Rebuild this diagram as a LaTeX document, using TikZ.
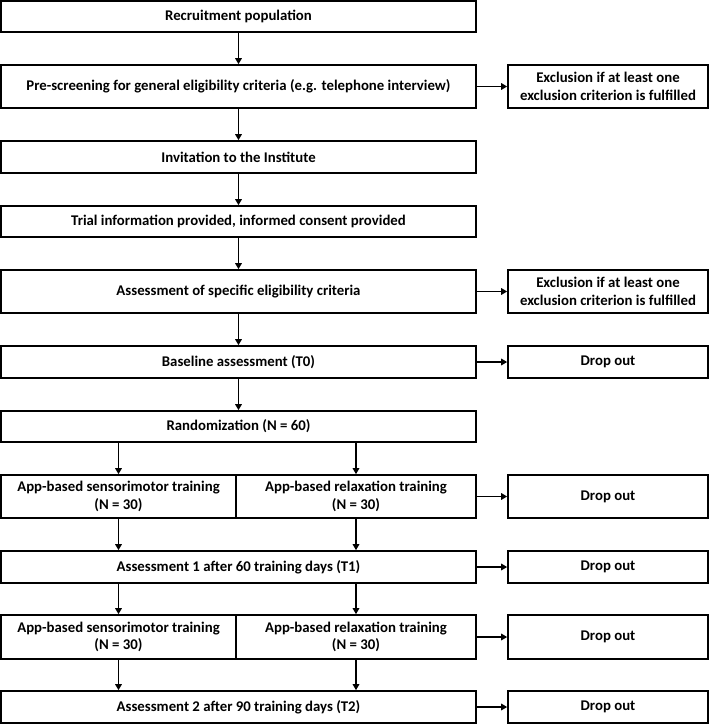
\documentclass[tikz,border=0pt]{standalone}
\usepackage{fontspec}
\setmainfont{Carlito}
\usetikzlibrary{arrows.meta}
\begin{document}
\begin{tikzpicture}[x=1pt,y=-1pt,
  box/.style={draw, line width=1.6pt, inner sep=1pt, align=center,
    font=\fontsize{14.8}{17.5}\selectfont\bfseries},
  mainbox/.style={box, minimum width=475pt},
  sidebox/.style={box, minimum width=200pt},
  arr/.style={line width=1.8pt, -{Triangle[length=6pt,width=6.5pt]}}]
\useasboundingbox (0,0) rectangle (709,724);
% main column
\node[mainbox, minimum height=31pt] (b1) at (238.5,16.5) {Recruitment population};
\node[mainbox, minimum height=43pt] (b2) at (238.5,86.5) {Pre-screening for general eligibility criteria (e.g. telephone interview)};
\node[mainbox, minimum height=32pt] (b3) at (238.5,157) {Invitation to the Institute};
\node[mainbox, minimum height=31pt] (b4) at (238.5,221.5) {Trial information provided, informed consent provided};
\node[mainbox, minimum height=43pt] (b5) at (238.5,291.5) {Assessment of specific eligibility criteria};
\node[mainbox, minimum height=32pt] (b6) at (238.5,362) {Baseline assessment (T0)};
\node[mainbox, minimum height=31pt] (b7) at (238.5,426.5) {Randomization (N = 60)};
\node[box, minimum width=235pt, minimum height=43pt] (l8) at (118.5,496.5) {App-based sensorimotor training\\(N = 30)};
\node[box, minimum width=240pt, minimum height=43pt] (r8) at (356,496.5) {App-based relaxation training\\(N = 30)};
\node[mainbox, minimum height=32pt] (b9) at (238.5,567) {Assessment 1 after 60 training days (T1)};
\node[box, minimum width=235pt, minimum height=44pt] (l10) at (118.5,637) {App-based sensorimotor training\\(N = 30)};
\node[box, minimum width=240pt, minimum height=44pt] (r10) at (356,637) {App-based relaxation training\\(N = 30)};
\node[mainbox, minimum height=32pt] (b11) at (238.5,707) {Assessment 2 after 90 training days (T2)};
% side column
\node[sidebox, minimum height=43pt] (e2) at (608,86.5) {Exclusion if at least one\\exclusion criterion is fulfilled};
\node[sidebox, minimum height=43pt] (e5) at (608,291.5) {Exclusion if at least one\\exclusion criterion is fulfilled};
\node[sidebox, minimum height=32pt] (d6) at (608,362) {Drop out};
\node[sidebox, minimum height=43pt] (d8) at (608,496.5) {Drop out};
\node[sidebox, minimum height=32pt] (d9) at (608,567) {Drop out};
\node[sidebox, minimum height=44pt] (d10) at (608,637) {Drop out};
\node[sidebox, minimum height=32pt] (d11) at (608,707) {Drop out};
% vertical arrows
\draw[arr] (b1) -- (b2);
\draw[arr] (b2) -- (b3);
\draw[arr] (b3) -- (b4);
\draw[arr] (b4) -- (b5);
\draw[arr] (b5) -- (b6);
\draw[arr] (b6) -- (b7);
\draw[arr] (b7.south -| l8) -- (l8.north);
\draw[arr] (b7.south -| r8) -- (r8.north);
\draw[arr] (l8.south) -- (l8.south |- b9.north);
\draw[arr] (r8.south) -- (r8.south |- b9.north);
\draw[arr] (b9.south -| l10) -- (l10.north);
\draw[arr] (b9.south -| r10) -- (r10.north);
\draw[arr] (l10.south) -- (l10.south |- b11.north);
\draw[arr] (r10.south) -- (r10.south |- b11.north);
% horizontal arrows
\draw[arr] (b2) -- (e2);
\draw[arr] (b5) -- (e5);
\draw[arr] (b6) -- (d6);
\draw[arr] (r8) -- (d8);
\draw[arr] (b9) -- (d9);
\draw[arr] (r10) -- (d10);
\draw[arr] (b11) -- (d11);
\end{tikzpicture}
\end{document}
